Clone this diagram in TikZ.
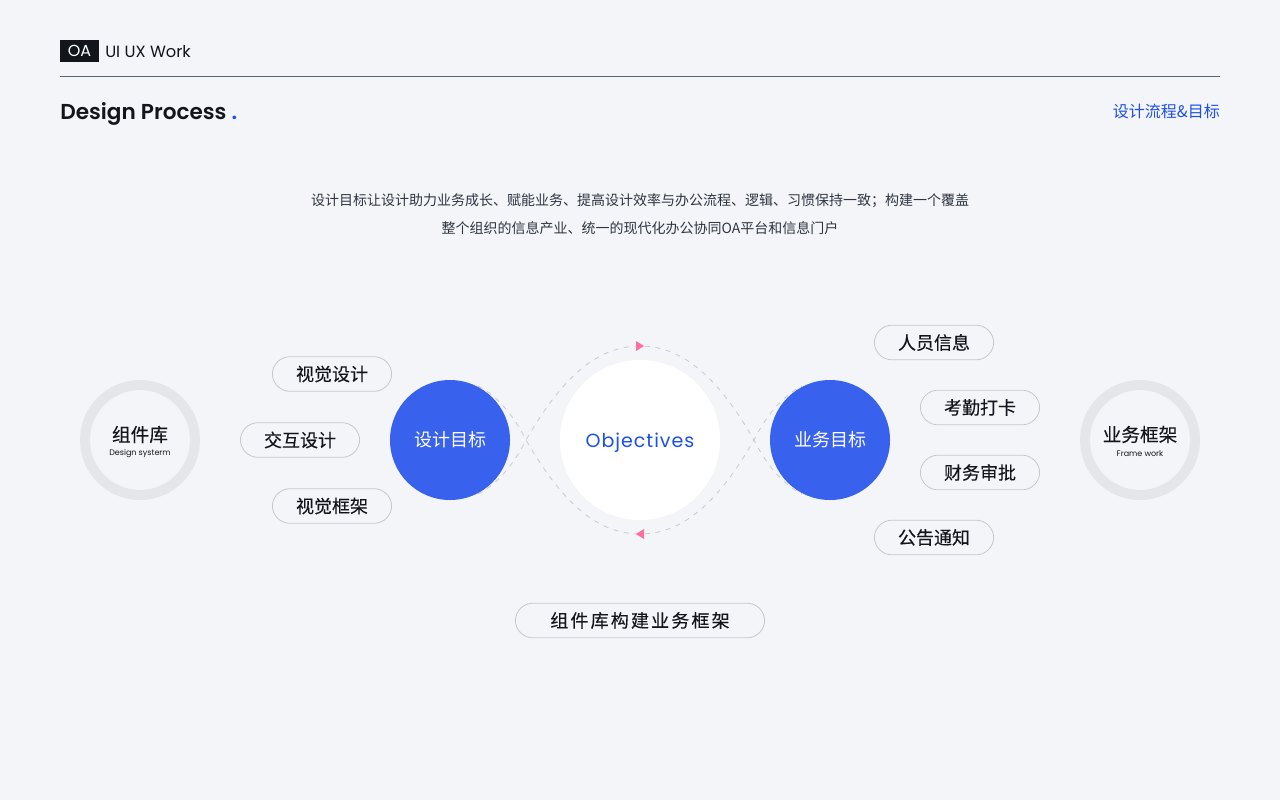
\documentclass[tikz,border=0pt]{standalone}
\usepackage{fontspec}
\setmainfont{Poppins}
\newfontfamily\cjk{Noto Sans CJK SC}
\newfontfamily\cjkm[FakeBold=0.15]{Noto Sans CJK SC}
\newfontfamily\cjkw[FakeBold=0.15,LetterSpace=12]{Noto Sans CJK SC}
\newfontfamily\latinw[LetterSpace=5]{Poppins}
\newfontfamily\latinm{Poppins SemiBold}
\definecolor{pagebg}{HTML}{F4F5F9}
\definecolor{inkdark}{HTML}{12151B}
\definecolor{inkbody}{HTML}{2E3540}
\definecolor{rulegrey}{HTML}{5A6472}
\definecolor{accentblue}{HTML}{1D4FEA}
\definecolor{discblue}{HTML}{3862EE}
\definecolor{ringgrey}{HTML}{E4E6EA}
\definecolor{pillgrey}{HTML}{C6C8CE}
\definecolor{dashgrey}{HTML}{C8CACF}
\definecolor{tippink}{HTML}{FF6F9C}
\begin{document}
\begin{tikzpicture}
        [x=0.75pt,y=-0.75pt,
        pill/.style ={draw=pillgrey,line width=0.6pt,rounded corners=13.3pt,minimum width=89.5pt,minimum height=26pt,inner sep=0pt,text=inkdark,font=\cjkm\fontsize{13.5}{16}\selectfont},
        disc/.style ={circle,fill=discblue,minimum size=90pt,inner sep=0pt,text=white,font=\cjk\fontsize{13.5}{16}\selectfont},
        ring/.style ={circle,draw=ringgrey,line width=7.5pt,minimum size=82.5pt,inner sep=0pt},
        capcn/.style ={inner sep=0pt,text=inkdark,font=\cjkm\fontsize{14}{16}\selectfont},
        capen/.style ={inner sep=0pt,text=inkdark,font=\fontsize{6}{8}\selectfont},
        wave/.style ={draw=dashgrey,line width=0.6pt,dash pattern=on 3.75pt off 4.2pt},
        tip/.style ={fill=tippink},
        body/.style ={inner sep=0pt,text=inkbody,font=\cjk\fontsize{10.5}{12}\selectfont}]
        \fill[pagebg] (0,0) rectangle (1280,800);
        \useasboundingbox (0,0) rectangle (1280,800);
        % header
        \node[fill=inkdark,text=white,minimum width=29.25pt,minimum height=16.5pt,inner sep=0pt,font=\fontsize{12}{14}\selectfont] (badge) at (79.5,51) {OA};
        \node[anchor=west,inner sep=0pt,text=inkdark,font=\fontsize{12.2}{14}\selectfont] (work) at (105,51.5) {UI UX Work};
        \coordinate (ruleL) at (60,76.5);
        \coordinate (ruleR) at (1220,76.5);
        \draw[rulegrey,line width=0.75pt] (ruleL) -- (ruleR);
        \node[anchor=west,inner sep=0pt,text=inkdark,font=\latinm\fontsize{16.2}{20}\selectfont] (title) at (60,114) {Design Process \textcolor{accentblue}{.}};
        \node[anchor=east,inner sep=0pt,text=accentblue,font=\cjk\fontsize{12}{14}\selectfont] (subtitle) at (1220,111.5) {设计流程\&目标};
        % intro
        \node[body] (introa) at (640,200.7) {设计目标让设计助力业务成长、赋能业务、提高设计效率与办公流程、逻辑、习惯保持一致；构建一个覆盖};
        \node[body] (introb) at (640,228.5) {整个组织的信息产业、统一的现代化办公协同OA平台和信息门户};
        % dashed waves
        \coordinate (crossL) at (526,440);
        \coordinate (crossR) at (754,440);
        \coordinate (top) at (640,346);
        \coordinate (bot) at (640,534);
        \draw[wave] (478,386) .. controls (500,397) and (516,420) .. (crossL) .. controls (555,490) and (590,534) .. (bot) .. controls (690,534) and (725,490) .. (crossR) .. controls (764,420) and (780,397) .. (802,386);
        \draw[wave] (478,494) .. controls (500,483) and (516,460) .. (crossL) .. controls (555,390) and (590,346) .. (top) .. controls (690,346) and (725,390) .. (crossR) .. controls (764,460) and (780,483) .. (802,494);
        \fill[tip] (636,341) -- (644,346) -- (636,351) -- cycle;
        \fill[tip] (644,529) -- (636,534) -- (644,539) -- cycle;
        % discs
        \node[circle,fill=white,minimum size=120pt,inner sep=0pt] (obj) at (640,440) {};
        \node[inner sep=0pt,text=accentblue,font=\latinw\fontsize{14.3}{18}\selectfont] (objtext) at (640,443) {Objectives};
        \node[disc] (goalL) at (450,440) {设计目标};
        \node[disc] (goalR) at (830,440) {业务目标};
        % rings
        \node[ring] (lib) at (140,440) {};
        \node[capcn] (libcn) at (140,434.5) {组件库};
        \node[capen] (liben) at (140,453.5) {Design systerm};
        \node[ring] (frame) at (1140,440) {};
        \node[capcn] (framecn) at (1140,434.5) {业务框架};
        \node[capen] (frameen) at (1140,453.5) {Frame work};
        % pills
        \node[pill] (visual) at (332,374) {视觉设计};
        \node[pill] (inter) at (300,440) {交互设计};
        \node[pill] (visframe) at (332,506) {视觉框架};
        \node[pill] (staff) at (934,342.5) {人员信息};
        \node[pill] (attend) at (980,407.5) {考勤打卡};
        \node[pill] (finance) at (980,472.5) {财务审批};
        \node[pill] (notice) at (934,537.5) {公告通知};
        \node[pill,minimum width=187pt,font=\cjkw\fontsize{13.5}{16}\selectfont] (build) at (640,620.5) {组件库构建业务框架};
    \end{tikzpicture}
\end{document}
